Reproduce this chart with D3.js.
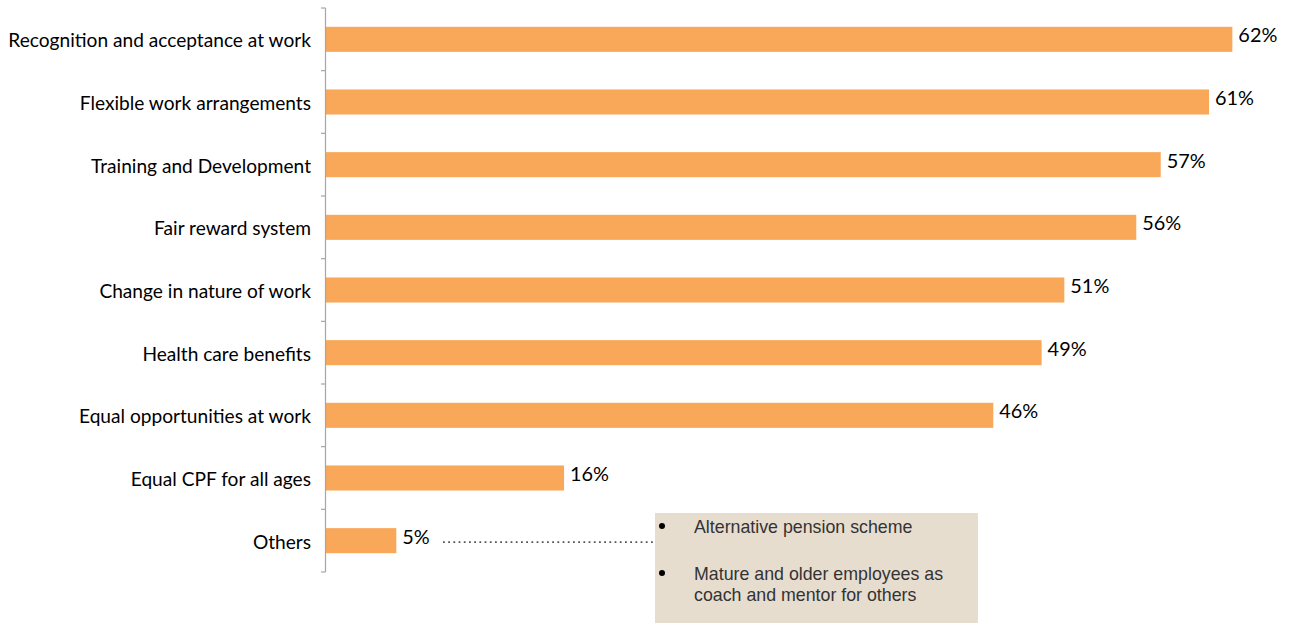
<!DOCTYPE html>
<html>
<head>
<meta charset="utf-8">
<script src="https://cdn.jsdelivr.net/npm/d3@7"></script>
<style>
  html, body { margin: 0; padding: 0; background: #fff; }
  svg { display: block; }
</style>
</head>
<body>
<svg id="chart" width="1290" height="623"></svg>
<script>
const categories = [
  "Recognition and acceptance at work",
  "Flexible work arrangements",
  "Training and Development",
  "Fair reward system",
  "Change in nature of work",
  "Health care benefits",
  "Equal opportunities at work",
  "Equal CPF for all ages",
  "Others"
];
const values = [62.25, 60.65, 57.33, 55.65, 50.71, 49.15, 45.83, 16.35, 4.83];
const valueLabels = ["62%", "61%", "57%", "56%", "51%", "49%", "46%", "16%", "5%"];
const noteItems = [
  ["Alternative pension scheme"],
  ["Mature and older employees as", "coach and mentor for others"]
];

const svg = d3.select("#chart");
const x = d3.scaleLinear().domain([0, 65]).range([326, 326 + 65 * 14.56]);
const y = d3.scaleBand().domain(categories).range([8, 572]).paddingInner(0.6).paddingOuter(0.3);

const catFont = "Lato, 'Open Sans', sans-serif";

// bars
svg.append("g").selectAll("rect").data(values).join("rect")
  .attr("x", x(0))
  .attr("y", (d, i) => y(categories[i]))
  .attr("width", d => x(d) - x(0))
  .attr("height", y.bandwidth())
  .attr("fill", "#F9A85A");

// axis line and ticks
const axisG = svg.append("g");
axisG.append("line")
  .attr("x1", 325.5).attr("x2", 325.5)
  .attr("y1", y.range()[0]).attr("y2", y.range()[1])
  .attr("stroke", "#a6a6a6").attr("stroke-width", 1.2);
const bounds = d3.range(categories.length + 1).map(i => y.range()[0] + i * y.step());
axisG.selectAll("line.tick").data(bounds).join("line")
  .attr("class", "tick")
  .attr("x1", 321).attr("x2", 325.5)
  .attr("y1", d => d).attr("y2", d => d)
  .attr("stroke", "#a6a6a6").attr("stroke-width", 1.2);

// category labels
const catG = svg.append("g");
const catTexts = catG.selectAll("text").data(categories).join("text")
  .attr("x", 311)
  .attr("y", d => y(d) + y.bandwidth() / 2 + 8)
  .attr("text-anchor", "end")
  .attr("font-family", catFont)
  .attr("font-size", 20)
  .attr("fill", "#000")
  .text(d => d);
// fit font size to the reference label width
const widest = d3.max(catTexts.nodes(), n => n.getComputedTextLength());
const catSize = 20 * 303 / widest;
catTexts.attr("font-size", catSize);

// value labels
const valTexts = svg.append("g").selectAll("text").data(values).join("text")
  .attr("x", d => x(d) + 6)
  .attr("y", (d, i) => y(categories[i]) + y.bandwidth() / 2 + 3)
  .attr("font-family", catFont)
  .attr("font-size", 20)
  .attr("fill", "#000")
  .text((d, i) => valueLabels[i]);
const w62 = valTexts.nodes()[0].getComputedTextLength();
valTexts.attr("font-size", 20 * 39 / w62);

// dotted leader line
const othersY = y("Others") + y.bandwidth() / 2 + 1.5;
svg.append("line")
  .attr("x1", 443).attr("x2", 655)
  .attr("y1", othersY).attr("y2", othersY)
  .attr("stroke", "#555").attr("stroke-width", 1.8)
  .attr("stroke-dasharray", "1.8,3.4");

// note box
const box = svg.append("g");
box.append("rect")
  .attr("x", 655).attr("y", 513)
  .attr("width", 323).attr("height", 110)
  .attr("fill", "#E7DDCF");
const baselines = [[533], [580, 600.5]];
noteItems.forEach((lines, i) => {
  box.append("circle")
    .attr("cx", 662).attr("cy", baselines[i][0] - 7)
    .attr("r", 3).attr("fill", "#000");
  lines.forEach((ln, j) => {
    box.append("text")
      .attr("x", 694).attr("y", baselines[i][j])
      .attr("font-family", "'Liberation Sans', Arial, sans-serif")
      .attr("font-size", 17.8)
      .attr("fill", "#333")
      .text(ln);
  });
});
</script>
</body>
</html>
